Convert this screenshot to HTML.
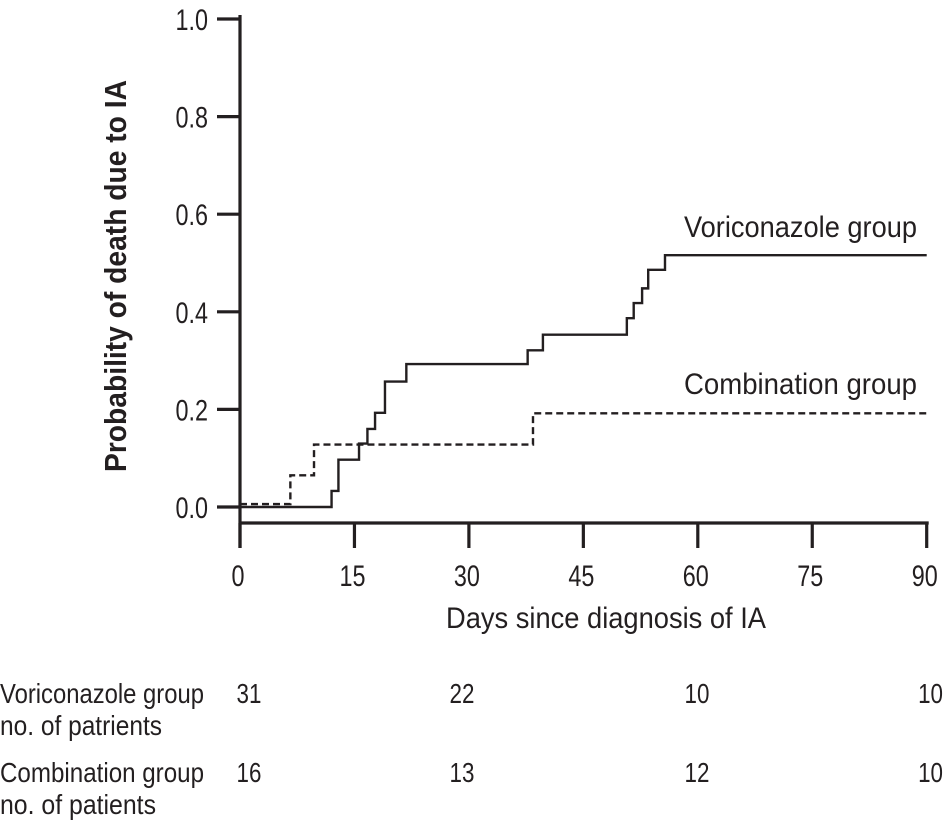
<!DOCTYPE html>
<html><head><meta charset="utf-8"><style>
body{margin:0;background:#fff}
svg text{font-family:"Liberation Sans Narrow","Liberation Sans",sans-serif;fill:#231f20}
</style></head><body>
<svg id="chart" width="943" height="820" viewBox="0 0 943 820" xmlns="http://www.w3.org/2000/svg">
<g id="axes"></g>
<g id="series"></g>
<g id="labels"></g>
</svg>
<script>
const xTicks=[0,15,30,45,60,75,90];
const yTicks=[0,0.2,0.4,0.6,0.8,1.0];
const yTickLabels=["0.0","0.2","0.4","0.6","0.8","1.0"];
const voriDays=[0,12.0,12.9,15.6,16.7,17.7,19.0,21.8,37.7,39.7,50.7,51.6,52.7,53.5,55.7,90];
const voriProb=[0,0.033,0.097,0.13,0.16,0.193,0.257,0.293,0.321,0.353,0.387,0.418,0.448,0.486,0.516,0.516];
const combDays=[0,6.6,9.7,38.4,90];
const combProb=[0.006,0.065,0.128,0.192,0.192];
const riskVori=["31","22","10","10"];
const riskComb=["16","13","12","10"];
const riskColX=[249,462,697,943];
const NS="http://www.w3.org/2000/svg";
const X=d=>240+d*7.63;
const Y=p=>507-p*488;
function mk(tag,attrs,parent,txt){const e=document.createElementNS(NS,tag);for(const k in attrs)e.setAttribute(k,attrs[k]);if(txt!==undefined)e.textContent=txt;document.getElementById(parent).appendChild(e);return e;}
function condense(el,f){const w=el.getComputedTextLength();el.setAttribute('textLength',(w*f).toFixed(1));el.setAttribute('lengthAdjust','spacingAndGlyphs');}
let e;
e=mk('line',{x1:240,y1:Y(1.0)-4,x2:240,y2:548,stroke:'#231f20','stroke-width':3.2},'axes');


e=mk('line',{x1:238.5,y1:523,x2:X(90)+2,y2:523,stroke:'#231f20','stroke-width':3.2},'axes');


yTicks.forEach((v,i)=>{
 e=mk('line',{x1:217,y1:Y(v),x2:240,y2:Y(v),stroke:'#231f20','stroke-width':3.2},'axes');
 
 
 e=mk('text',{x:208,y:Y(v)+11,'font-size':30,'text-anchor':'end'},'labels',yTickLabels[i]);
 
 
 condense(e,0.78);
});
xTicks.forEach(v=>{
 e=mk('line',{x1:X(v),y1:523,x2:X(v),y2:548,stroke:'#231f20','stroke-width':3.2},'axes');
 
 
 e=mk('text',{x:X(v)-2,y:586,'font-size':30,'text-anchor':'middle'},'labels',String(v));
 
 
 condense(e,0.78);
});
function stepPath(ds,ps){let d='M'+X(ds[0])+','+Y(ps[0]);for(let i=1;i<ds.length;i++){d+=' H'+X(ds[i])+' V'+Y(ps[i]);}return d;}
e=mk('path',{d:stepPath(voriDays,voriProb),fill:'none',stroke:'#231f20','stroke-width':2.4},'series');


e=mk('path',{d:stepPath(combDays,combProb),fill:'none',stroke:'#231f20','stroke-width':2.4,'stroke-dasharray':'7,4'},'series');


e=mk('text',{x:684,y:237,'font-size':30},'labels','Voriconazole group');


e.setAttribute('textLength','233');e.setAttribute('lengthAdjust','spacingAndGlyphs');
e=mk('text',{x:684,y:394,'font-size':30},'labels','Combination group');


e.setAttribute('textLength','233');e.setAttribute('lengthAdjust','spacingAndGlyphs');
e=mk('text',{x:446,y:628,'font-size':30},'labels','Days since diagnosis of IA');


e.setAttribute('textLength','320');e.setAttribute('lengthAdjust','spacingAndGlyphs');
e=mk('text',{x:-472,y:0,'font-size':31,'font-weight':'bold',transform:'translate(126,0) rotate(-90)'},'labels','Probability of death due to IA');


e.setAttribute('textLength','392');e.setAttribute('lengthAdjust','spacingAndGlyphs');
[['Voriconazole group',703,204],['no. of patrients',735,162],['Combination group',782,204],['no. of patients',814,156]].forEach(t=>{
 e=mk('text',{x:0,y:t[1],'font-size':28},'labels',t[0]);
 
 
 e.setAttribute('textLength',t[2]);e.setAttribute('lengthAdjust','spacingAndGlyphs');
});
riskColX.forEach((x,i)=>{
 const anchor=i===3?'end':'middle';
 e=mk('text',{x:x,y:703,'font-size':28,'text-anchor':anchor},'labels',riskVori[i]);
 
 
 condense(e,0.8);
 e=mk('text',{x:x,y:782,'font-size':28,'text-anchor':anchor},'labels',riskComb[i]);
 
 
 condense(e,0.8);
});
</script>
</body></html>
